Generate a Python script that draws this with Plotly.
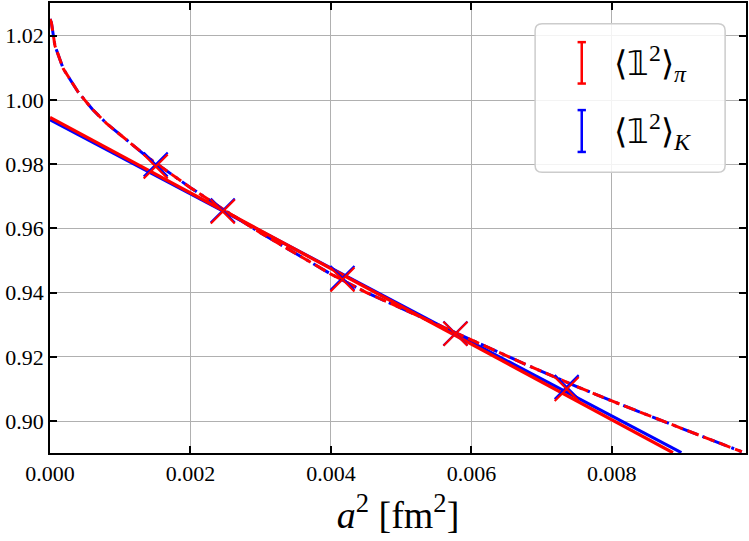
import plotly.graph_objects as go

# ---- data ----
a2 = [0.001505, 0.00246, 0.004164, 0.005773, 0.007357]
pi_vals = [0.9793, 0.9653, 0.9441, 0.9272, 0.9100]
K_vals = [0.9799, 0.9656, 0.9446, 0.9273, 0.9106]

lin_x_pi = [0.0, 0.00887]
lin_pi = [0.9946, 0.8902]
lin_x_K = [0.0, 0.00899]
lin_K = [0.9938, 0.8902]

dash_x = [0.0, 0.00002, 0.00007, 0.00019, 0.0004, 0.0006, 0.0008, 0.0011, 0.0014,
          0.002, 0.0025, 0.003, 0.0035, 0.004, 0.0045, 0.005, 0.0055, 0.006,
          0.0068, 0.0075, 0.008, 0.009, 0.00985]
dash_pi = [1.0252, 1.0241, 1.0169, 1.0097, 1.0025, 0.9972, 0.9928, 0.9873, 0.9820,
           0.9727, 0.9655, 0.9586, 0.9521, 0.9458, 0.9401, 0.9352, 0.9303, 0.9254,
           0.9174, 0.9108, 0.9063, 0.8977, 0.8905]
dash_K = [1.0252, 1.0241, 1.0169, 1.0097, 1.0025, 0.9972, 0.9928, 0.9873, 0.9820,
          0.9727, 0.9655, 0.9586, 0.9521, 0.9458, 0.9401, 0.9352, 0.9303, 0.9254,
          0.9174, 0.9108, 0.9063, 0.8977, 0.8905]

x_ticks = [0.0, 0.002, 0.004, 0.006, 0.008]
y_ticks = [0.90, 0.92, 0.94, 0.96, 0.98, 1.00, 1.02]

RED = "#ff0000"
BLUE = "#0000ff"
FONT = "Liberation Serif, Times New Roman, serif"

fig = go.Figure()

# blue (K) underneath
fig.add_trace(go.Scatter(x=lin_x_K, y=lin_K, mode="lines",
                         line=dict(color=BLUE, width=3), showlegend=False))
fig.add_trace(go.Scatter(x=dash_x, y=dash_K, mode="lines",
                         line=dict(color=BLUE, width=3, dash="18px,5px,3px,5px"),
                         showlegend=False))
# red (pi) on top
fig.add_trace(go.Scatter(x=lin_x_pi, y=lin_pi, mode="lines",
                         line=dict(color=RED, width=3.3), showlegend=False))
fig.add_trace(go.Scatter(x=dash_x, y=dash_pi, mode="lines",
                         line=dict(color=RED, width=3, dash="12px,5px"),
                         showlegend=False))
# markers
fig.add_trace(go.Scatter(x=a2, y=K_vals, mode="markers",
                         marker=dict(symbol="x-thin", size=24, color=BLUE,
                                     line=dict(color=BLUE, width=2.2)),
                         showlegend=False))
fig.add_trace(go.Scatter(x=a2, y=pi_vals, mode="markers",
                         marker=dict(symbol="x-thin", size=24, color=RED,
                                     line=dict(color=RED, width=2.2)),
                         showlegend=False))

# ---- custom legend (matplotlib style) ----
shapes = []
bx0, bx1, by0, by1 = 0.697, 0.970, 0.624, 0.954
rx, ry = 0.010, 0.015
path = (f"M {bx0+rx},{by0} L {bx1-rx},{by0} Q {bx1},{by0} {bx1},{by0+ry} "
        f"L {bx1},{by1-ry} Q {bx1},{by1} {bx1-rx},{by1} L {bx0+rx},{by1} "
        f"Q {bx0},{by1} {bx0},{by1-ry} L {bx0},{by0+ry} Q {bx0},{by0} {bx0+rx},{by0} Z")
shapes.append(dict(type="path", xref="paper", yref="paper", path=path,
                   fillcolor="rgba(255,255,255,0.85)",
                   line=dict(color="#cccccc", width=1.5), layer="above"))

def errbar(xc, ylo, yhi, color):
    cw = 0.006
    out = [dict(type="line", xref="paper", yref="paper", x0=xc, x1=xc, y0=ylo, y1=yhi,
                line=dict(color=color, width=2.5), layer="above")]
    for yy in (ylo, yhi):
        out.append(dict(type="line", xref="paper", yref="paper", x0=xc - cw, x1=xc + cw,
                        y0=yy, y1=yy, line=dict(color=color, width=2.5), layer="above"))
    return out

shapes += errbar(0.764, 0.821, 0.913, RED)
shapes += errbar(0.764, 0.669, 0.762, BLUE)

annotations = [
    dict(xref="paper", yref="paper", x=0.808, y=0.866, xanchor="left", yanchor="middle",
         text="⟨𝟙<sup>2</sup>⟩<sub><i>π</i></sub>", showarrow=False,
         font=dict(family=FONT, size=34, color="black")),
    dict(xref="paper", yref="paper", x=0.808, y=0.715, xanchor="left", yanchor="middle",
         text="⟨𝟙<sup>2</sup>⟩<sub><i>K</i></sub>", showarrow=False,
         font=dict(family=FONT, size=34, color="black")),
]

axis_common = dict(showline=True, linecolor="black", linewidth=1.5, mirror="allticks",
                   ticks="inside", ticklen=7, tickwidth=1.5, tickcolor="black",
                   showgrid=True, gridcolor="#b0b0b0", gridwidth=1.3, zeroline=False,
                   tickfont=dict(family=FONT, size=22, color="black"))

fig.update_layout(
    width=749, height=541,
    margin=dict(l=50, r=2, t=1, b=88),
    paper_bgcolor="white", plot_bgcolor="white",
    showlegend=False,
    xaxis=dict(range=[0, 0.00991], tickvals=x_ticks,
               ticktext=[f"{v:.3f}" for v in x_ticks],
               title=dict(text="<i>a</i><sup>2</sup> [fm<sup>2</sup>]",
                          font=dict(family=FONT, size=38, color="black"), standoff=16),
               **axis_common),
    yaxis=dict(range=[0.8901, 1.0302], tickvals=y_ticks,
               ticktext=[f"{v:.2f}" for v in y_ticks], **axis_common),
    shapes=shapes,
    annotations=annotations,
)

fig.write_html("out.html")
